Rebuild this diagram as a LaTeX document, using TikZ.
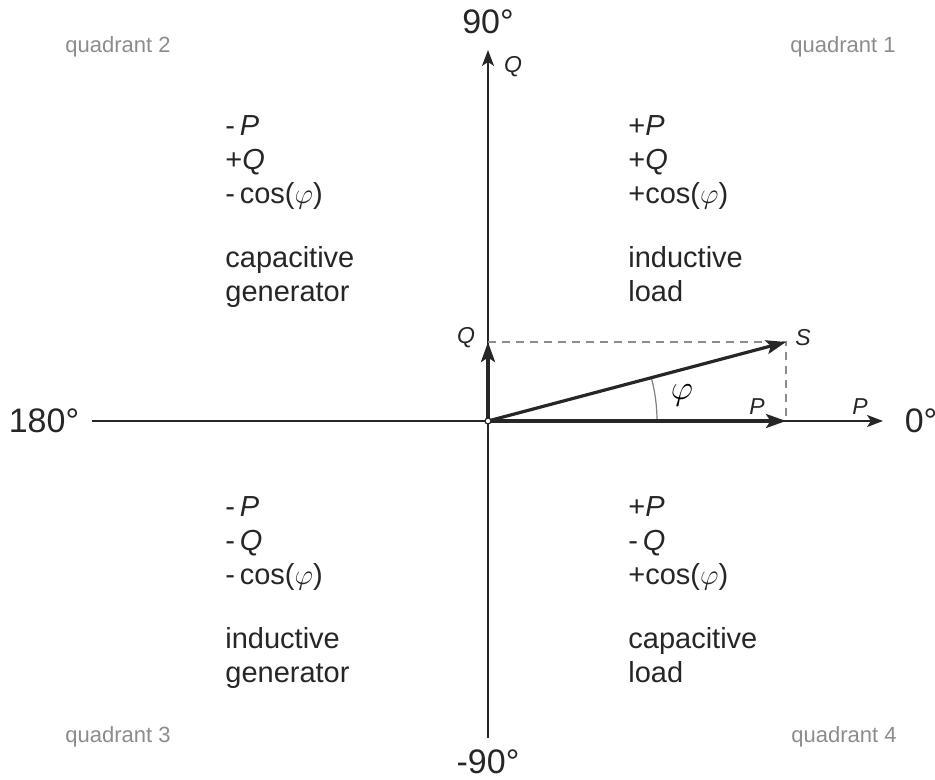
\documentclass[tikz,border=0pt]{standalone}
\usepackage{fontspec}
\setmainfont{Liberation Sans}
\usepackage{tikz}
\usetikzlibrary{positioning, arrows.meta}

\newcommand{\quadlines}[1]{\begin{tabular}[t]{@{}l@{}}#1\end{tabular}}

\begin{document}
\begin{tikzpicture}[
    x=0.5pt, y=0.5pt,
    font=\fontsize{14.5}{17}\selectfont,
    axis_line/.style={line width=1pt, black!85},
    axis_arrow/.style={axis_line, -{Stealth[length=8pt, width=6pt, inset=2pt]}},
    vec_arrow/.style={-{Stealth[length=10pt, width=7pt, inset=2.2pt]}, line width=1.6pt, black!85},
    proj_line/.style={dash pattern=on 4pt off 3pt, line width=0.7pt, black!45},
    quad_text/.style={anchor=base west, inner sep=0pt, text=black!85},
    quad_label/.style={anchor=base west, inner sep=0pt, font=\fontsize{11}{13}\selectfont, text=black!45},
    deg_label/.style={inner sep=0pt, font=\fontsize{17}{20}\selectfont, text=black!85},
    vec_label/.style={inner sep=0pt, font=\fontsize{11.5}{13}\selectfont\itshape, text=black!85}
]

\useasboundingbox (-488,-359) rectangle (447,421);

% Axes
\coordinate (x_min) at (-396,0);
\coordinate (x_max) at (395,0);
\coordinate (y_min) at (0,-317);
\coordinate (y_max) at (0,371);
\draw[axis_arrow] (x_min) -- (x_max);
\draw[axis_arrow] (y_min) -- (y_max);

% Angle labels
\node[deg_label] (deg_0) at (433,0) {0°};
\node[deg_label] (deg_90) at (0,399) {90°};
\node[deg_label] (deg_180) at (-444,0) {180°};
\node[deg_label] (deg_m90) at (0,-341) {-90°};

% Power vectors
\coordinate (O) at (0,0);
\coordinate (Q_tip) at (0,79);
\coordinate (S_tip) at (298,79);
\coordinate (P_tip) at (298,0);
\draw[proj_line] (Q_tip) -- (S_tip) -- (P_tip);
\draw[black!50, line width=0.6pt] (169,0) arc[start angle=0, end angle=14.85, radius=169];
\draw[vec_arrow] (O) -- (Q_tip);
\draw[vec_arrow] (O) -- (S_tip);
\draw[vec_arrow] (O) -- (P_tip);
\node[circle, draw=black!85, fill=white, line width=0.6pt, inner sep=0pt, minimum size=3pt] (origin) at (O) {};

% Vector labels
\node[vec_label] (lbl_S) at (315,83) {S};
\node[vec_label] (lbl_Q) at (-22,83) {Q};
\node[vec_label] (lbl_P) at (269,14) {P};
\node[vec_label] (lbl_P_axis) at (372,14) {P};
\node[vec_label] (lbl_Q_axis) at (25,354) {Q};
\node[inner sep=0pt, font=\fontsize{16}{18}\selectfont] (lbl_phi) at (194,26) {$\varphi$};

% Quadrant texts
\node[quad_text] (q1_text) at (140,285) {\quadlines{+\textit{P}\\+\textit{Q}\\+cos($\varphi$)\\[15pt]inductive\\load}};
\node[quad_text] (q2_text) at (-263,285) {\quadlines{-\,\textit{P}\\+\textit{Q}\\-\,cos($\varphi$)\\[15pt]capacitive\\generator}};
\node[quad_text] (q3_text) at (-263,-96) {\quadlines{-\,\textit{P}\\-\,\textit{Q}\\-\,cos($\varphi$)\\[15pt]inductive\\generator}};
\node[quad_text] (q4_text) at (140,-96) {\quadlines{+\textit{P}\\-\,\textit{Q}\\+cos($\varphi$)\\[15pt]capacitive\\load}};

% Quadrant names
\node[quad_label] (quad_1) at (302,368) {quadrant 1};
\node[quad_label] (quad_2) at (-423,368) {quadrant 2};
\node[quad_label] (quad_3) at (-423,-321) {quadrant 3};
\node[quad_label] (quad_4) at (303,-321) {quadrant 4};

\end{tikzpicture}
\end{document}
